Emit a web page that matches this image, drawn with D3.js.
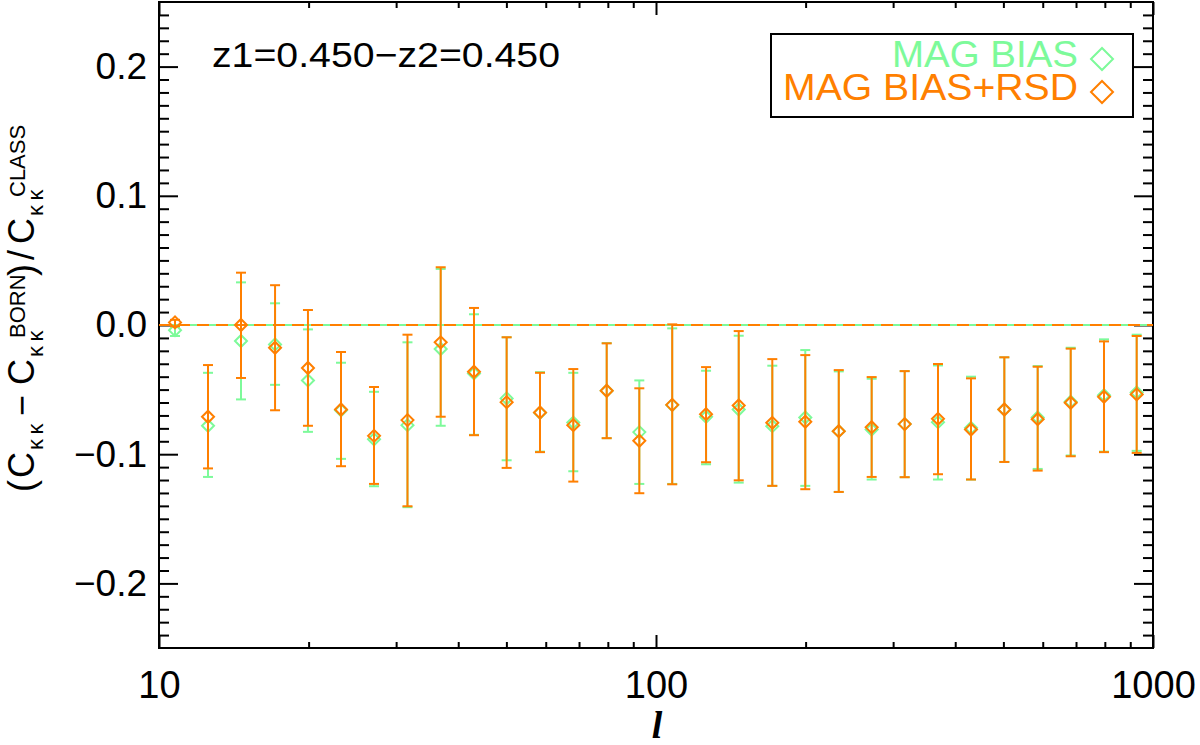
<!DOCTYPE html>
<html>
<head>
<meta charset="utf-8">
<script src="https://cdn.jsdelivr.net/npm/d3@7"></script>
<style>
 body { margin: 0; background: #fff; }
 svg { font-family: "Liberation Sans", Helvetica, Arial, sans-serif; }
</style>
</head>
<body>
<div class="chart"></div>
<script>
// multipole centres
var ell = [10.77, 12.55, 14.62, 17.12, 19.94, 23.24, 27.08, 31.62, 36.88, 43.03,
           50.06, 58.43, 68.17, 79.58, 92.56, 107.8, 126.1, 146.7, 171.4, 199.7,
           233.2, 271.6, 316.5, 369.3, 430.3, 502.2, 586.1, 683.0, 796.9, 927.2];

// MAG BIAS
var magMean = [-0.004, -0.078, -0.0124, -0.015, -0.0429, -0.066, -0.0884, -0.0775, -0.0186, -0.0375,
               -0.0568, -0.068, -0.0755, -0.0509, -0.0829, -0.062, -0.0711, -0.0654, -0.0783, -0.0716,
               -0.0822, -0.0809, -0.0767, -0.0752, -0.0796, -0.0654, -0.0716, -0.0594, -0.0543, -0.0522];
var magHi = [-0.001, -0.037, 0.033, 0.0168, -0.0034, -0.0292, -0.0517, -0.0134, 0.0434, 0.0083,
             -0.0095, -0.0365, -0.037, -0.014, -0.0429, -0.0026, -0.0354, -0.0083, -0.0315, -0.0194,
             -0.0359, -0.0416, -0.0357, -0.0313, -0.04, -0.025, -0.0318, -0.0176, -0.0111, -0.0075];
var magLo = [-0.0085, -0.1176, -0.0576, -0.0463, -0.0827, -0.1036, -0.1248, -0.141, -0.078, -0.085,
             -0.1047, -0.098, -0.1132, -0.0876, -0.123, -0.123, -0.1078, -0.122, -0.1245, -0.1245,
             -0.1292, -0.1196, -0.1178, -0.1196, -0.1196, -0.106, -0.1114, -0.101, -0.098, -0.0974];

// MAG BIAS+RSD
var rsdMean = [0.002, -0.071, 0.0, -0.0176, -0.0333, -0.0654, -0.0858, -0.0736, -0.0134, -0.0362,
               -0.0597, -0.0677, -0.0775, -0.0509, -0.0896, -0.0618, -0.069, -0.0623, -0.0757, -0.0749,
               -0.0822, -0.0791, -0.0767, -0.0726, -0.0809, -0.0654, -0.0729, -0.0602, -0.0556, -0.0537];
var rsdHi = [0.004, -0.031, 0.0405, 0.0308, 0.0116, -0.0209, -0.048, -0.0075, 0.0447, 0.0132,
             -0.0095, -0.037, -0.0341, -0.0142, -0.049, 0.0005, -0.0326, -0.0047, -0.0264, -0.0233,
             -0.0349, -0.0403, -0.0357, -0.0302, -0.0413, -0.025, -0.0323, -0.0183, -0.0127, -0.0085];
var rsdLo = [-0.001, -0.111, -0.041, -0.066, -0.078, -0.1093, -0.123, -0.1403, -0.071, -0.0853,
             -0.1106, -0.0984, -0.1212, -0.0876, -0.1302, -0.1233, -0.1062, -0.1202, -0.1245, -0.1271,
             -0.1292, -0.1176, -0.1178, -0.1155, -0.1196, -0.106, -0.1127, -0.1016, -0.0984, -0.099];

var xMajor = [10, 100, 1000];
var xMinor = [20, 30, 40, 50, 60, 70, 80, 90, 200, 300, 400, 500, 600, 700, 800, 900];
var yMajor = [-0.2, -0.1, 0.0, 0.1, 0.2];
var seriesNames = ["MAG BIAS", "MAG BIAS+RSD"];
var titleText = "z1=0.450\u2212z2=0.450";

var green = "#7dfa9a", orange = "#ff7f00";

var w = 1200, h = 745;
var L = 159, R = 1153, T = 2, B = 648;

var svg = d3.select(".chart").append("svg").attr("width", w).attr("height", h);

var x = d3.scaleLog().domain([10, 1000]).range([L, R]);
var y = d3.scaleLinear().domain([-0.25, 0.25]).range([B, T]);

var yMinor = d3.range(-24, 25).map(function(i){ return i / 100; })
  .filter(function(v){ return Math.abs(Math.round(v * 100)) % 10 != 0; });

function styleAxis(g) {
  g.select(".domain").remove();
  g.selectAll("line").attr("stroke", "#000").attr("stroke-width", 2);
}

// bottom
svg.append("g").attr("transform", "translate(0," + B + ")")
   .call(d3.axisBottom(x).tickValues(xMinor).tickSize(-6).tickFormat(""))
   .call(styleAxis);
svg.append("g").attr("transform", "translate(0," + B + ")")
   .call(d3.axisBottom(x).tickValues(xMajor).tickSize(-13).tickPadding(23).tickFormat(d3.format("d")))
   .call(styleAxis)
   .selectAll("text").attr("font-size", 38).attr("fill", "#000").attr("font-family", "Liberation Sans, Arial, sans-serif");
// top
svg.append("g").attr("transform", "translate(0," + T + ")")
   .call(d3.axisTop(x).tickValues(xMinor).tickSize(-6).tickFormat(""))
   .call(styleAxis);
svg.append("g").attr("transform", "translate(0," + T + ")")
   .call(d3.axisTop(x).tickValues(xMajor).tickSize(-13).tickFormat(""))
   .call(styleAxis);
// left
svg.append("g").attr("transform", "translate(" + L + ",0)")
   .call(d3.axisLeft(y).tickValues(yMinor).tickSize(-10).tickFormat(""))
   .call(styleAxis);
svg.append("g").attr("transform", "translate(" + L + ",0)")
   .call(d3.axisLeft(y).tickValues(yMajor).tickSize(-19).tickPadding(12).tickFormat(d3.format(".1f")))
   .call(styleAxis)
   .selectAll("text").attr("font-size", 37).attr("fill", "#000").attr("font-family", "Liberation Sans, Arial, sans-serif");
// right
svg.append("g").attr("transform", "translate(" + R + ",0)")
   .call(d3.axisRight(y).tickValues(yMinor).tickSize(-10).tickFormat(""))
   .call(styleAxis);
svg.append("g").attr("transform", "translate(" + R + ",0)")
   .call(d3.axisRight(y).tickValues(yMajor).tickSize(-19).tickFormat(""))
   .call(styleAxis);

// frame
svg.append("rect").attr("x", L).attr("y", T).attr("width", R - L).attr("height", B - T)
   .attr("fill", "none").attr("stroke", "#000").attr("stroke-width", 2);

// zero line
svg.append("line").attr("x1", L).attr("x2", R).attr("y1", y(0)).attr("y2", y(0))
   .attr("stroke", green).attr("stroke-width", 2);
svg.append("line").attr("x1", L).attr("x2", R).attr("y1", y(0)).attr("y2", y(0))
   .attr("stroke", orange).attr("stroke-width", 2).attr("stroke-dasharray", "12,7");

function diamond(cx, cy, r) {
  return "M" + (cx - r) + "," + cy + "L" + cx + "," + (cy - r) + "L" + (cx + r) + "," + cy + "L" + cx + "," + (cy + r) + "Z";
}

function drawSeries(mean, lo, hi, col) {
  var data = ell.map(function(l, i){ return {l: l, m: mean[i], lo: lo[i], hi: hi[i]}; });
  var g = svg.append("g");
  var pts = g.selectAll("g").data(data).enter().append("g");
  pts.append("line")
     .attr("x1", function(d){ return x(d.l); }).attr("x2", function(d){ return x(d.l); })
     .attr("y1", function(d){ return y(d.lo); }).attr("y2", function(d){ return y(d.hi); })
     .attr("stroke", col).attr("stroke-width", 2);
  pts.append("line")
     .attr("x1", function(d){ return x(d.l) - 5; }).attr("x2", function(d){ return x(d.l) + 5; })
     .attr("y1", function(d){ return y(d.lo); }).attr("y2", function(d){ return y(d.lo); })
     .attr("stroke", col).attr("stroke-width", 2);
  pts.append("line")
     .attr("x1", function(d){ return x(d.l) - 5; }).attr("x2", function(d){ return x(d.l) + 5; })
     .attr("y1", function(d){ return y(d.hi); }).attr("y2", function(d){ return y(d.hi); })
     .attr("stroke", col).attr("stroke-width", 2);
  pts.append("path")
     .attr("d", function(d){ return diamond(x(d.l), y(d.m), 6); })
     .attr("fill", "none").attr("stroke", col).attr("stroke-width", 2);
}

drawSeries(magMean, magLo, magHi, green);
drawSeries(rsdMean, rsdLo, rsdHi, orange);

// title
svg.append("text").attr("x", 212).attr("y", 67).attr("font-size", 35)
   .attr("textLength", 348).attr("lengthAdjust", "spacingAndGlyphs").text(titleText);

// legend
svg.append("rect").attr("x", 771).attr("y", 34).attr("width", 362).attr("height", 83)
   .attr("fill", "#fff").attr("stroke", "#000").attr("stroke-width", 2);
var legCols = [green, orange];
var legWidths = [186, 295];
var leg = svg.append("g");
leg.selectAll("text").data(seriesNames).enter().append("text")
   .attr("x", 1078).attr("y", function(d, i){ return 67 + i * 33; })
   .attr("text-anchor", "end").attr("font-size", 37)
   .attr("textLength", function(d, i){ return legWidths[i]; })
   .attr("lengthAdjust", "spacingAndGlyphs")
   .attr("fill", function(d, i){ return legCols[i]; })
   .text(function(d){ return d; });
leg.selectAll("path").data(seriesNames).enter().append("path")
   .attr("d", function(d, i){ return diamond(1102, 59 + i * 33, 11); })
   .attr("fill", "none").attr("stroke", function(d, i){ return legCols[i]; }).attr("stroke-width", 2);

// x label
svg.append("text").attr("x", 657).attr("y", 738).attr("text-anchor", "middle")
   .attr("font-family", "Liberation Serif, Times New Roman, serif")
   .attr("font-style", "italic").attr("font-weight", "bold").attr("font-size", 38).text("l");

// y label: pieces placed along a rotated baseline, start at the bottom of the label
var yl = svg.append("g").attr("transform", "translate(34,502) rotate(-90)");
var pieces = [
  {t: "(", at: 10, s: 36, dy: 0},
  {t: "C", at: 24, s: 36, dy: 0},
  {t: "\u03ba\u2009\u03ba", at: 52, s: 22, dy: 9},
  {t: "\u2212", at: 86, s: 36, dy: 0},
  {t: "C", at: 117, s: 36, dy: 0},
  {t: "\u03ba\u2009\u03ba", at: 145, s: 22, dy: 9},
  {t: "BORN", at: 164, s: 22, dy: -9},
  {t: ")", at: 226, s: 36, dy: 0},
  {t: "/", at: 242, s: 36, dy: 0},
  {t: "C", at: 258, s: 36, dy: 0},
  {t: "\u03ba\u2009\u03ba", at: 286, s: 22, dy: 9},
  {t: "CLASS", at: 305, s: 22, dy: -9}
];
yl.selectAll("text").data(pieces).enter().append("text")
  .attr("x", function(d){ return d.at; }).attr("y", function(d){ return d.dy; })
  .attr("font-size", function(d){ return d.s; })
  .text(function(d){ return d.t; });
</script>
</body>
</html>
